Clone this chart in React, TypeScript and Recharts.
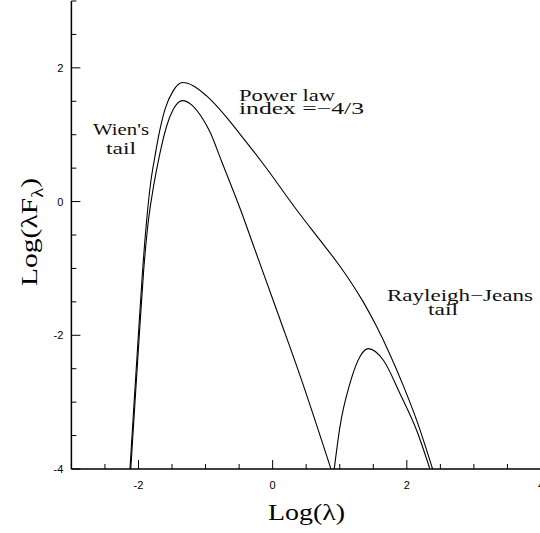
import { LineChart, Line, XAxis, YAxis } from 'recharts'

// Log(lambda) / Log(lambda F_lambda)
const upperX = [-2.127, -2.065, -2.0, -1.94, -1.88, -1.82, -1.754, -1.69, -1.605, -1.481, -1.341, -1.18, -0.984, -0.662, -0.487, -0.145, 0.362, 0.7, 0.954, 1.15, 1.35, 1.55, 1.75, 1.95, 2.15, 2.384]
const upperY = [-4, -3.0, -1.97, -1.05, -0.3, 0.27, 0.68, 1.03, 1.38, 1.66, 1.78, 1.73, 1.58, 1.23, 1.01, 0.57, -0.13, -0.57, -0.9, -1.18, -1.5, -1.87, -2.29, -2.76, -3.28, -4]

const wienX = [-2.115, -2.052, -1.986, -1.924, -1.86, -1.78, -1.705, -1.654, -1.58, -1.481, -1.341, -1.2, -1.05, -0.934, -0.76, -0.487, -0.264, 0.109, 0.407, 0.869]
const wienY = [-4, -3.0, -1.97, -1.05, -0.35, 0.2, 0.6, 0.84, 1.13, 1.38, 1.51, 1.44, 1.25, 1.04, 0.6, -0.1, -0.72, -1.76, -2.6, -4]

const rjX = [0.918, 1.003, 1.152, 1.301, 1.425, 1.648, 1.897, 2.146, 2.344]
const rjY = [-4, -3.37, -2.72, -2.32, -2.2, -2.37, -2.87, -3.42, -4]

const xTicks = [-3, -2.5, -2, -1.5, -1, -0.5, 0, 0.5, 1, 1.5, 2, 2.5, 3, 3.5, 4]
const yTicks = [-4, -3.5, -3, -2.5, -2, -1.5, -1, -0.5, 0, 0.5, 1, 1.5, 2, 2.5, 3]
const labelTicks = [-4, -2, 0, 2, 4]

const toPoints = (xs: number[], ys: number[]) => xs.map((x, i) => ({ x, y: ys[i] }))
const upper = toPoints(upperX, upperY)
const wien = toPoints(wienX, wienY)
const rj = toPoints(rjX, rjY)

const isMajor = (v: number) => labelTicks.includes(v)
const tickFont = { fontFamily: 'Liberation Sans, Arial, sans-serif', fontSize: 11, fill: '#000' }
const noteFont = { fontFamily: 'Liberation Serif, serif', fontSize: 16, fill: '#111', lengthAdjust: 'spacingAndGlyphs' }

const BottomTick = (p: any) => {
  const v = p.payload.value
  return (
    <g>
      <line x1={p.x} x2={p.x} y1={p.y} y2={p.y - (isMajor(v) ? 9 : 5)} stroke="#000" />
      {isMajor(v) && <text x={p.x} y={p.y + 19.5} textAnchor="middle" {...tickFont}>{v}</text>}
    </g>
  )
}
const TopTick = (p: any) => {
  const v = p.payload.value
  return <line x1={p.x} x2={p.x} y1={p.y} y2={p.y + (isMajor(v) ? 9 : 5)} stroke="#000" />
}
const LeftTick = (p: any) => {
  const v = p.payload.value
  return (
    <g>
      <line x1={p.x} x2={p.x + (isMajor(v) ? 9 : 5)} y1={p.y} y2={p.y} stroke="#000" />
      {isMajor(v) && <text x={p.x - 8} y={p.y + 4} textAnchor="end" {...tickFont}>{v}</text>}
    </g>
  )
}
const RightTick = (p: any) => {
  const v = p.payload.value
  return <line x1={p.x} x2={p.x - (isMajor(v) ? 9 : 5)} y1={p.y} y2={p.y} stroke="#000" />
}

export default function App() {
  return (
    <div style={{ position: 'absolute', left: 0, top: 0, width: 540, height: 533, overflow: 'hidden', background: '#fff' }}>
      <LineChart width={542} height={533} margin={{ top: 1, right: 1, bottom: 34, left: 0 }}>
        <XAxis xAxisId="b" type="number" dataKey="x" domain={[-3, 4]} ticks={xTicks} interval={0}
          allowDataOverflow height={30} tickSize={0} tickMargin={0} tick={BottomTick}
          axisLine={{ stroke: '#000', strokeWidth: 1.5 }} />
        <XAxis xAxisId="t" orientation="top" type="number" dataKey="x" domain={[-3, 4]} ticks={xTicks} interval={0}
          allowDataOverflow height={0} tickSize={0} tickMargin={0} tick={TopTick}
          axisLine={{ stroke: '#000', strokeWidth: 1.5 }} />
        <YAxis yAxisId="l" type="number" dataKey="y" domain={[-4, 3]} ticks={yTicks} interval={0}
          allowDataOverflow width={71.4} tickSize={0} tickMargin={0} tick={LeftTick}
          axisLine={{ stroke: '#000', strokeWidth: 1.5 }} />
        <YAxis yAxisId="r" orientation="right" type="number" dataKey="y" domain={[-4, 3]} ticks={yTicks} interval={0}
          allowDataOverflow width={0} tickSize={0} tickMargin={0} tick={RightTick}
          axisLine={{ stroke: '#000', strokeWidth: 1.5 }} />
        <Line xAxisId="b" yAxisId="l" data={upper} dataKey="y" type="monotone" stroke="#000" strokeWidth={1.1} dot={false} isAnimationActive={false} />
        <Line xAxisId="b" yAxisId="l" data={wien} dataKey="y" type="monotone" stroke="#000" strokeWidth={1.1} dot={false} isAnimationActive={false} />
        <Line xAxisId="b" yAxisId="l" data={rj} dataKey="y" type="monotone" stroke="#000" strokeWidth={1.1} dot={false} isAnimationActive={false} />
        <g>
          <text x={93} y={135} textLength={56} {...noteFont}>Wien's</text>
          <text x={106} y={154} textLength={30} {...noteFont}>tail</text>
          <text x={239} y={101} textLength={96} {...noteFont}>Power law</text>
          <text x={239} y={114} textLength={125} {...noteFont}>index =−4/3</text>
          <text x={387} y={301} textLength={146} {...noteFont}>Rayleigh−Jeans</text>
          <text x={428} y={315} textLength={30} {...noteFont}>tail</text>
          <text x={306.5} y={520} textAnchor="middle" textLength={77} lengthAdjust="spacingAndGlyphs" fontFamily="Liberation Serif, serif" fontSize={23}>Log(λ)</text>
          <text x={37} y={232} transform="rotate(-90 37 232)" textAnchor="middle" textLength={108} lengthAdjust="spacingAndGlyphs" fontFamily="Liberation Serif, serif" fontSize={23}>
            <tspan>Log(λF</tspan><tspan dy={6} fontSize={16}>λ</tspan><tspan dy={-6}>)</tspan>
          </text>
        </g>
      </LineChart>
    </div>
  )
}
